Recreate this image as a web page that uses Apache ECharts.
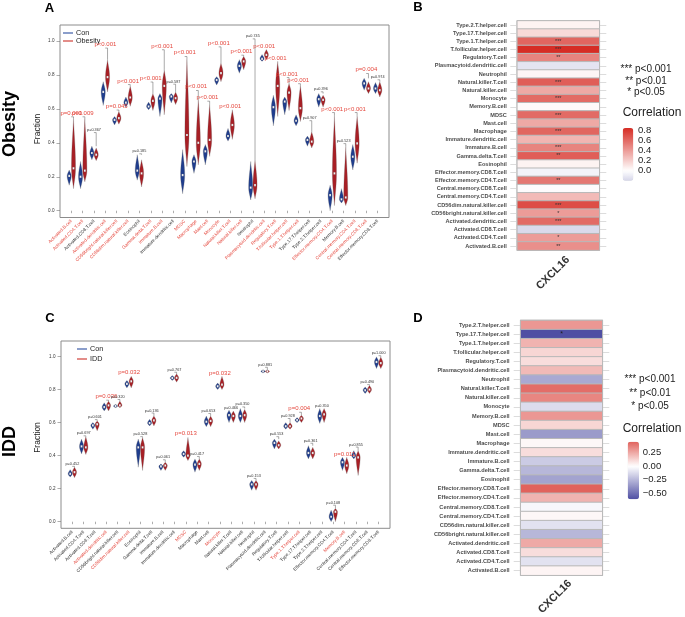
<!DOCTYPE html>
<html><head><meta charset="utf-8">
<script src="https://cdn.jsdelivr.net/npm/echarts@6.0.0/dist/echarts.min.js"></script>
<style>html,body{margin:0;padding:0;background:#fff}#c{width:685px;height:617px}</style>
</head><body><div id="c"></div><script>
const FONT = '"Liberation Sans", Arial, Helvetica, sans-serif';

// ---------- Panel A (Obesity) ----------
const cellsA = ['Activated.B.cell','Activated.CD4.T.cell','Activated.CD8.T.cell','Activated.dendritic.cell','CD56bright.natural.killer.cell','CD56dim.natural.killer.cell','Eosinophil','Gamma.delta.T.cell','Immature.B.cell','Immature.dendritic.cell','MDSC','Macrophage','Mast.cell','Monocyte','Natural.killer.T.cell','Natural.killer.cell','Neutrophil','Plasmacytoid.dendritic.cell','Regulatory.T.cell','T.follicular.helper.cell','Type.1.T.helper.cell','Type.17.T.helper.cell','Type.2.T.helper.cell','Effector.memory.CD4.T.cell','Memory.B.cell','Central.memory.CD4.T.cell','Central.memory.CD8.T.cell','Effector.memory.CD8.T.cell'];
// [min, median, max]
const conA = [[0.15,0.205,0.24],[0.13,0.20,0.29],[0.30,0.34,0.38],[0.62,0.70,0.76],[0.505,0.535,0.555],[0.61,0.637,0.67],[0.18,0.236,0.33],[0.595,0.614,0.64],[0.555,0.66,0.69],[0.635,0.673,0.69],[0.10,0.21,0.36],[0.22,0.29,0.33],[0.27,0.35,0.39],[0.74,0.77,0.79],[0.41,0.44,0.485],[0.81,0.853,0.89],[0.063,0.136,0.29],[0.88,0.895,0.92],[0.50,0.61,0.68],[0.565,0.643,0.67],[0.50,0.53,0.565],[0.38,0.417,0.44],[0.61,0.657,0.69],[0.0,0.092,0.15],[0.045,0.067,0.13],[0.24,0.318,0.39],[0.71,0.75,0.78],[0.69,0.72,0.755]];
const obA = [[0.13,0.25,0.545],[0.17,0.236,0.55],[0.295,0.33,0.37],[0.70,0.787,0.89],[0.51,0.545,0.585],[0.615,0.667,0.735],[0.14,0.22,0.30],[0.59,0.647,0.69],[0.565,0.735,0.83],[0.625,0.663,0.70],[0.26,0.446,0.90],[0.27,0.40,0.66],[0.32,0.417,0.63],[0.76,0.81,0.87],[0.42,0.505,0.595],[0.83,0.88,0.91],[0.07,0.151,0.30],[0.89,0.918,0.95],[0.555,0.735,0.88],[0.59,0.696,0.75],[0.525,0.604,0.74],[0.37,0.407,0.466],[0.61,0.653,0.68],[0.03,0.22,0.56],[0.03,0.078,0.38],[0.28,0.397,0.56],[0.69,0.72,0.76],[0.67,0.71,0.76]];
const pTextA = ['p=0.001','p=0.009','p=0.367','p<0.001','p=0.045','p<0.001','p=0.185','p<0.001','p<0.001','p=0.587','p<0.001','p<0.001','p<0.001','p<0.001','p<0.001','p<0.001','p=0.745','p<0.001','p<0.001','p<0.001','p<0.001','p=0.907','p=0.396','p<0.001','p=0.523','p<0.001','p=0.004','p=0.974'];
const pYA = [0.575,0.575,0.475,0.98,0.615,0.765,0.35,0.78,0.97,0.76,0.93,0.73,0.667,0.987,0.617,0.938,1.027,0.97,0.90,0.806,0.77,0.545,0.715,0.60,0.41,0.60,0.83,0.786];

// ---------- Panel C (IDD) ----------
const cellsC = cellsA.slice();
const conC = [[0.27,0.29,0.315],[0.41,0.456,0.50],[0.56,0.583,0.60],[0.67,0.694,0.72],[0.69,0.70,0.71],[0.81,0.835,0.855],[0.33,0.45,0.50],[0.58,0.597,0.62],[0.31,0.335,0.35],[0.855,0.87,0.885],[0.39,0.41,0.43],[0.30,0.345,0.38],[0.575,0.605,0.64],[0.80,0.82,0.84],[0.60,0.645,0.675],[0.60,0.64,0.685],[0.19,0.226,0.25],[0.90,0.91,0.92],[0.44,0.477,0.50],[0.56,0.578,0.60],[0.60,0.615,0.63],[0.38,0.416,0.46],[0.595,0.64,0.685],[0.0,0.03,0.07],[0.31,0.36,0.39],[0.38,0.40,0.43],[0.776,0.796,0.816],[0.927,0.967,0.998]];
const iddC = [[0.266,0.30,0.33],[0.407,0.45,0.516],[0.55,0.59,0.61],[0.67,0.704,0.73],[0.69,0.704,0.73],[0.81,0.85,0.88],[0.31,0.45,0.51],[0.58,0.613,0.64],[0.31,0.34,0.36],[0.845,0.871,0.895],[0.37,0.40,0.51],[0.31,0.35,0.38],[0.575,0.61,0.64],[0.80,0.83,0.88],[0.60,0.64,0.67],[0.60,0.645,0.68],[0.19,0.226,0.25],[0.90,0.91,0.92],[0.44,0.463,0.49],[0.56,0.578,0.60],[0.60,0.625,0.645],[0.38,0.416,0.45],[0.60,0.65,0.685],[0.0,0.06,0.08],[0.29,0.34,0.39],[0.28,0.39,0.43],[0.776,0.80,0.825],[0.927,0.96,0.998]];
const pTextC = ['p=0.452','p=0.697','p=0.601','p=0.036','p=0.320','p=0.032','p=0.528','p=0.136','p=0.061','p=0.767','p=0.013','p=0.417','p=0.653','p=0.032','p=0.466','p=0.350','p=0.153','p=0.881','p=0.553','p=0.928','p=0.004','p=0.361','p=0.350','p=0.108','p=0.011','p=0.855','p=0.490','p=1.000'];
const pYC = [0.35,0.535,0.633,0.758,0.755,0.905,0.53,0.673,0.39,0.92,0.535,0.41,0.67,0.90,0.69,0.71,0.277,0.95,0.53,0.64,0.685,0.49,0.70,0.115,0.41,0.467,0.845,1.02];

// ---------- Heatmaps B / D ----------
const heatRows = ['Type.2.T.helper.cell','Type.17.T.helper.cell','Type.1.T.helper.cell','T.follicular.helper.cell','Regulatory.T.cell','Plasmacytoid.dendritic.cell','Neutrophil','Natural.killer.T.cell','Natural.killer.cell','Monocyte','Memory.B.cell','MDSC','Mast.cell','Macrophage','Immature.dendritic.cell','Immature.B.cell','Gamma.delta.T.cell','Eosinophil','Effector.memory.CD8.T.cell','Effector.memory.CD4.T.cell','Central.memory.CD8.T.cell','Central.memory.CD4.T.cell','CD56dim.natural.killer.cell','CD56bright.natural.killer.cell','Activated.dendritic.cell','Activated.CD8.T.cell','Activated.CD4.T.cell','Activated.B.cell'];
const heatCol = ['CXCL16'];
const corrB = [0.05,0.15,0.62,0.85,0.5,-0.13,0.04,0.65,0.35,0.6,0.02,0.6,0.35,0.62,0.3,0.5,0.65,0.05,-0.06,0.55,0.0,0.28,0.72,0.4,0.6,-0.18,0.4,0.45];
const starsB = ['','','***','***','**','','','***','','***','','***','','***','','***','**','','','**','','','***','*','***','','*','**'];
const corrD = [0.3,-0.61,0.22,0.12,0.1,0.2,-0.3,0.42,0.35,-0.12,0.3,0.12,-0.35,0.02,0.1,-0.18,-0.25,-0.32,0.454,0.22,-0.03,0.02,-0.1,-0.25,0.25,0.1,-0.1,0.03];
const starsD = ['','*','','','','','','','','','','','','','','','','','','','','','','','','','',''];
const cbTicksB = [0.8,0.6,0.4,0.2,0.0];
const cbTicksD = [0.25,0.0,-0.25,-0.5];
const sigLegend = ['*** p<0.001','** p<0.01','* p<0.05'];

// ---------- styles ----------
const BLUE = '#1f3d8e', RED = '#a81f25';
const TXT_RED = '#e5483e', TXT_BLK = '#333';
const LOW = [79,79,163], HIGH = [214,44,36];

function isSig(t){ if (t.indexOf('<') >= 0) return true; return parseFloat(t.split('=')[1]) < 0.05; }
function hex(c){ return '#' + c.map(v => Math.round(v).toString(16).padStart(2,'0')).join(''); }
function grad2(v, maxAbs){
  const t = Math.max(-1, Math.min(1, v / maxAbs));
  const tgt = t >= 0 ? HIGH : LOW, a = Math.abs(t);
  return hex([0,1,2].map(k => 255 + (tgt[k]-255)*a));
}
function stops(min, max){
  const m = Math.max(Math.abs(min), Math.abs(max)), out = [];
  for (let i = 0; i <= 30; i++) out.push(grad2(min + (max-min)*i/30, m));
  return out;
}

function violinData(cells, a, b){
  const d = [];
  cells.forEach((c,i) => { d.push([i+1, -1].concat(a[i])); d.push([i+1, 1].concat(b[i])); });
  return d;
}
function pData(cells, a, b, py, pt){
  return cells.map((c,i) => [i+1, py[i], Math.max(a[i][2], b[i][2]), isSig(pt[i]) ? 1 : 0]);
}

function violinItem(params, api){
  const xi = api.value(0), side = api.value(1), lo = api.value(2), md = api.value(3), hi = api.value(4);
  const unit = api.size([1,0])[0];
  const cx = api.coord([xi,0])[0] + side*unit*0.19;
  const hw = unit*0.18;
  const yHi = api.coord([xi,hi])[1], yMd = api.coord([xi,md])[1], yLo = api.coord([xi,lo])[1];
  const N = 12, right = [];
  for (let i = 0; i <= N; i++){ const f = i/N; right.push([cx + hw*Math.pow(Math.sin(Math.PI/2*f),1.3), yHi + (yMd-yHi)*f]); }
  for (let i = 1; i <= N; i++){ const f = i/N; right.push([cx + hw*Math.pow(Math.cos(Math.PI/2*f),1.3), yMd + (yLo-yMd)*f]); }
  const left = right.slice().reverse().map(p => [2*cx - p[0], p[1]]);
  const col = side < 0 ? BLUE : RED;
  return {type:'group', children:[
    {type:'polygon', shape:{points: right.concat(left)}, style:{fill: col, stroke: '#555', lineWidth: 0.25}},
    {type:'rect', shape:{x: cx - hw*0.42, y: yMd - 1.1, width: hw*0.84, height: 2.2}, style:{fill:'#fff', stroke:'#666', lineWidth:0.2}}
  ]};
}
function makePItem(texts){
  return function(params, api){
    const xi = api.value(0), py = api.value(1), top = api.value(2), sig = api.value(3);
    const unit = api.size([1,0])[0];
    const cx = api.coord([xi,0])[0];
    const bx = cx + unit*0.19;
    const ly = api.coord([xi,py])[1];
    const ty = api.coord([xi,top])[1];
    const fs = sig ? 6 : 3.8;
    const by = ly + fs*0.55 + 0.4;
    const ch = [];
    if (ty > by + 0.5){
      ch.push({type:'line', shape:{x1:bx, y1:by, x2:bx, y2:ty}, style:{stroke:'#555', lineWidth:0.5}});
      ch.push({type:'line', shape:{x1:bx - unit*0.2, y1:by, x2:bx, y2:by}, style:{stroke:'#555', lineWidth:0.5}});
    }
    ch.push({type:'text', x: cx, y: ly, style:{text: texts[params.dataIndex], fill: sig ? TXT_RED : TXT_BLK, fontSize: fs, fontFamily: FONT, align:'center', verticalAlign:'middle', textAlign:'center', textVerticalAlign:'middle'}});
    return {type:'group', children: ch};
  };
}

function violinXAxis(grid, cells, pt){
  return {type:'value', gridIndex: grid, min: 0, max: cells.length + 1, interval: 1,
    axisLine:{show:false}, splitLine:{show:false},
    axisTick:{show:true, length:2.5, lineStyle:{color:'#777', width:0.6}, customValues: cells.map((c,i)=>i+1)},
    axisLabel:{rotate:45, margin:3, fontSize:4.6, fontFamily: FONT, customValues: cells.map((c,i)=>i+1),
      formatter: v => { const i = Math.round(v) - 1; if (i < 0 || i >= cells.length || Math.abs(v - Math.round(v)) > 1e-6) return ''; return (isSig(pt[i]) ? '{r|' : '{k|') + cells[i] + '}'; },
      rich:{ r:{color: TXT_RED, fontSize:4.6, fontFamily: FONT}, k:{color: TXT_BLK, fontSize:4.6, fontFamily: FONT} } }
  };
}
function violinYAxis(grid){
  return {type:'value', gridIndex: grid, min: -0.04, max: 1.094, splitNumber: 5,
    axisLine:{show:false}, splitLine:{show:false},
    axisTick:{show:true, length:3.5, lineStyle:{color:'#777', width:0.6}},
    axisLabel:{margin:5.5, fontSize:4.6, color:'#333', fontFamily: FONT, showMinLabel:false, showMaxLabel:false,
      formatter: v => Math.abs(v*5 - Math.round(v*5)) < 1e-6 ? v.toFixed(1) : ''}
  };
}
function heatYAxis(grid, pos, showLabel, margin){
  return {type:'category', gridIndex: grid, data: heatRows, inverse: true, position: pos,
    axisLine:{show:false}, splitLine:{show:false},
    axisTick:{show:true, alignWithLabel:true, length:7, lineStyle:{color:'#dcdcdc', width:1}},
    axisLabel:{show: showLabel, margin: margin, fontSize:5.6, fontWeight:'bold', color:'#4d4d4d', fontFamily: FONT}
  };
}

const vmB = {min:-0.2, max:0.854, left:622.7, top:128, itemWidth:10.6, itemHeight:52.7};
const vmD = {min:-0.611, max:0.454, left:627.7, top:441.7, itemWidth:11.3, itemHeight:57.6};

function cbLabels(vm, ticks, x){
  return ticks.map(t => ({type:'text', x: x, y: vm.top + (vm.max - t)/(vm.max - vm.min)*vm.itemHeight,
    style:{text: (t < 0 ? '\u2212' : '') + Math.abs(t).toFixed(ticks === cbTicksD ? 2 : 1), fill:'#222', fontSize: 9.5, fontFamily: FONT, align:'left', verticalAlign:'middle', textAlign:'left', textVerticalAlign:'middle'}}));
}
function txt(text, x, y, size, opts){
  opts = opts || {};
  return {type:'text', x:x, y:y, rotation: opts.rot || 0,
    style:{text:text, fill: opts.color || '#000', fontSize:size, fontWeight: opts.bold ? 'bold' : 'normal', fontFamily: FONT,
      align: opts.align || 'center', verticalAlign:'middle', textAlign: opts.align || 'center', textVerticalAlign:'middle'}};
}
function legendItems(x, y, labels, colors, gap){
  const out = [];
  labels.forEach((l,i) => {
    const yy = y + i*gap;
    out.push({type:'line', shape:{x1:x, y1:yy, x2:x+10, y2:yy}, style:{stroke: colors[i], lineWidth:1.1}});
    out.push(txt(l, x+13, yy, 7.2, {align:'left', color:'#222'}));
  });
  return out;
}

const graphics = [
  txt('A', 49.5, 8.7, 13, {bold:true}), txt('B', 418, 7.7, 13, {bold:true}),
  txt('C', 50, 318.7, 13, {bold:true}), txt('D', 418, 318, 13, {bold:true}),
  txt('Obesity', 10, 124, 18, {bold:true, rot: Math.PI/2}),
  txt('IDD', 10, 441.5, 18, {bold:true, rot: Math.PI/2}),
  txt('Fraction', 38, 129, 8.5, {rot: Math.PI/2, color:'#222'}),
  txt('Fraction', 38, 437.5, 8.5, {rot: Math.PI/2, color:'#222'}),
  txt(heatCol[0], 553, 273, 11, {bold:true, rot: Math.PI/4, color:'#333'}),
  txt(heatCol[0], 555, 596.7, 11, {bold:true, rot: Math.PI/4, color:'#333'}),
  txt('Correlation', 622.7, 113, 12, {align:'left', color:'#222'}),
  txt('Correlation', 622.7, 428.3, 12, {align:'left', color:'#222'})
].concat(
  sigLegend.map((s,i) => txt(s, 646, [69,81,92.7][i], 10, {color:'#222'})),
  sigLegend.map((s,i) => txt(s, 650, [379,393.3,406.7][i], 10, {color:'#222'})),
  cbLabels(vmB, cbTicksB, 638),
  cbLabels(vmD, cbTicksD, 642.7),
  legendItems(63, 33, ['Con','Obesity'], ['#2d4fa0','#cc3129'], 8),
  legendItems(77, 349, ['Con','IDD'], ['#2d4fa0','#cc3129'], 10)
);

const option = {
  animation: false,
  backgroundColor: '#fff',
  textStyle: {fontFamily: FONT},
  grid: [
    {left:60, top:25, width:329, height:192.5, show:true, borderColor:'#8c8c8c', borderWidth:1, backgroundColor:'transparent'},
    {left:61, top:341, width:329, height:187.3, show:true, borderColor:'#8c8c8c', borderWidth:1, backgroundColor:'transparent'},
    {left:517.3, top:20.9, width:82, height:229.2, show:true, borderColor:'#b5b5b5', borderWidth:1.5, backgroundColor:'transparent'},
    {left:520.7, top:320.5, width:81.6, height:254.7, show:true, borderColor:'#b5b5b5', borderWidth:1.5, backgroundColor:'transparent'}
  ],
  xAxis: [
    violinXAxis(0, cellsA, pTextA),
    violinXAxis(1, cellsC, pTextC),
    {type:'category', gridIndex:2, data: heatCol, axisLine:{show:false}, axisTick:{show:false}, axisLabel:{show:false}},
    {type:'category', gridIndex:3, data: heatCol, axisLine:{show:false}, axisTick:{show:false}, axisLabel:{show:false}}
  ],
  yAxis: [
    violinYAxis(0), violinYAxis(1),
    heatYAxis(2, 'left', true, 10.5), heatYAxis(2, 'right', false, 8),
    heatYAxis(3, 'left', true, 11.2), heatYAxis(3, 'right', false, 8)
  ],
  visualMap: [
    Object.assign({type:'continuous', seriesIndex:4, dimension:2, calculable:false, padding:0, orient:'vertical', hoverLink:false, inRange:{color: stops(vmB.min, vmB.max)}}, vmB),
    Object.assign({type:'continuous', seriesIndex:5, dimension:2, calculable:false, padding:0, orient:'vertical', hoverLink:false, inRange:{color: stops(vmD.min, vmD.max)}}, vmD)
  ],
  series: [
    {type:'custom', xAxisIndex:0, yAxisIndex:0, renderItem: violinItem, data: violinData(cellsA, conA, obA), silent:true},
    {type:'custom', xAxisIndex:0, yAxisIndex:0, renderItem: makePItem(pTextA), data: pData(cellsA, conA, obA, pYA, pTextA), silent:true},
    {type:'custom', xAxisIndex:1, yAxisIndex:1, renderItem: violinItem, data: violinData(cellsC, conC, iddC), silent:true},
    {type:'custom', xAxisIndex:1, yAxisIndex:1, renderItem: makePItem(pTextC), data: pData(cellsC, conC, iddC, pYC, pTextC), silent:true},
    {type:'heatmap', xAxisIndex:2, yAxisIndex:2, data: heatRows.map((r,i) => [0, i, corrB[i]]),
      itemStyle:{borderColor:'#b8b8b8', borderWidth:1},
      label:{show:true, formatter: p => starsB[p.data[1]], fontSize:5.5, color:'#333', fontFamily: FONT}},
    {type:'heatmap', xAxisIndex:3, yAxisIndex:4, data: heatRows.map((r,i) => [0, i, corrD[i]]),
      itemStyle:{borderColor:'#b8b8b8', borderWidth:1},
      label:{show:true, formatter: p => starsD[p.data[1]], fontSize:7, color:'#222', fontFamily: FONT}}
  ],
  graphic: graphics
};

const chart = echarts.init(document.getElementById('c'), null, {renderer:'canvas'});
chart.setOption(option);
</script></body></html>
